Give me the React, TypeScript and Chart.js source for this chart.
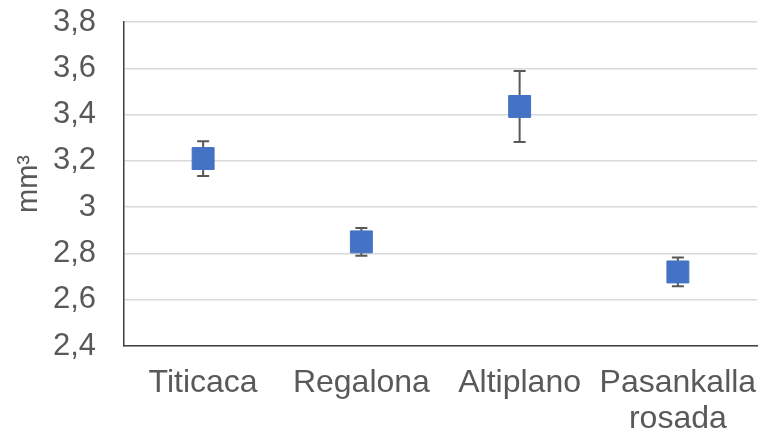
import React, { useEffect, useRef } from "react";
import { Chart, registerables } from "chart.js";

Chart.register(...registerables);

const categories: (string | string[])[] = ["Titicaca", "Regalona", "Altiplano", ["Pasankalla", "rosada"]];
const means: number[] = [3.21, 2.85, 3.435, 2.72];
const errors: number[] = [0.075, 0.06, 0.153, 0.062];
const yTitle = "mm³";

const FONT = "'Liberation Sans', Arial, sans-serif";
const TEXT = "#595959";

const errorBarPlugin = {
  id: "errorBars",
  beforeDatasetsDraw(chart: any) {
    const ctx = chart.ctx;
    const meta = chart.getDatasetMeta(0);
    const yScale = chart.scales.y;
    ctx.save();
    ctx.strokeStyle = "#595959";
    ctx.lineWidth = 2;
    meta.data.forEach((pt: any, i: number) => {
      const x = pt.x;
      const yTop = yScale.getPixelForValue(means[i] + errors[i]);
      const yBot = yScale.getPixelForValue(means[i] - errors[i]);
      const cap = 6;
      ctx.beginPath();
      ctx.moveTo(x, yTop);
      ctx.lineTo(x, yBot);
      ctx.moveTo(x - cap, yTop);
      ctx.lineTo(x + cap, yTop);
      ctx.moveTo(x - cap, yBot);
      ctx.lineTo(x + cap, yBot);
      ctx.stroke();
    });
    ctx.restore();
  },
};

export default function App() {
  const ref = useRef<HTMLCanvasElement>(null);
  useEffect(() => {
    if (!ref.current) return;
    const chart = new Chart(ref.current, {
      type: "line",
      data: {
        labels: categories as any,
        datasets: [
          {
            data: means,
            showLine: false,
            pointStyle: "rect",
            pointRadius: 15.5,
            pointBackgroundColor: "#4472C4",
            pointBorderColor: "#4472C4",
            pointBorderWidth: 1,
          },
        ],
      },
      options: {
        responsive: false,
        animation: false,
        layout: { autoPadding: false, padding: { top: 0, right: 3, left: 12, bottom: 0 } },
        plugins: { legend: { display: false }, tooltip: { enabled: false } },
        scales: {
          x: {
            offset: true,
            grid: { display: false, drawTicks: false },
            border: { display: true, color: "#404040", width: 1.5 },
            ticks: {
              color: TEXT,
              font: { family: FONT, size: 32, lineHeight: 1.1 },
              padding: 20,
              maxRotation: 0,
              autoSkip: false,
            },
            afterFit: (scale: any) => {
              scale.height = 86;
              scale.paddingLeft = 0;
              scale.paddingRight = 0;
            },
          },
          y: {
            min: 2.4,
            max: 3.8,
            grid: { color: "#d9d9d9", lineWidth: 1.5, drawTicks: false },
            border: { display: true, color: "#404040", width: 1.5 },
            ticks: {
              stepSize: 0.2,
              color: TEXT,
              font: { family: FONT, size: 31 },
              padding: 28,
              callback: (v: any) => {
                const n = Math.round(Number(v) * 10) / 10;
                return n.toString().replace(".", ",");
              },
            },
            title: {
              display: true,
              text: yTitle,
              color: TEXT,
              font: { family: FONT, size: 29 },
              padding: { top: 0, bottom: 4 },
            },
            afterFit: (scale: any) => {
              scale.width = 112;
              scale.paddingTop = 22;
              scale.paddingBottom = 0;
            },
          },
        },
      },
      plugins: [errorBarPlugin],
    });
    return () => chart.destroy();
  }, []);
  return (
    <div style={{ position: "fixed", left: 0, top: 0, width: 760, height: 432, background: "#fff" }}>
      <canvas ref={ref} width={760} height={432} />
    </div>
  );
}
